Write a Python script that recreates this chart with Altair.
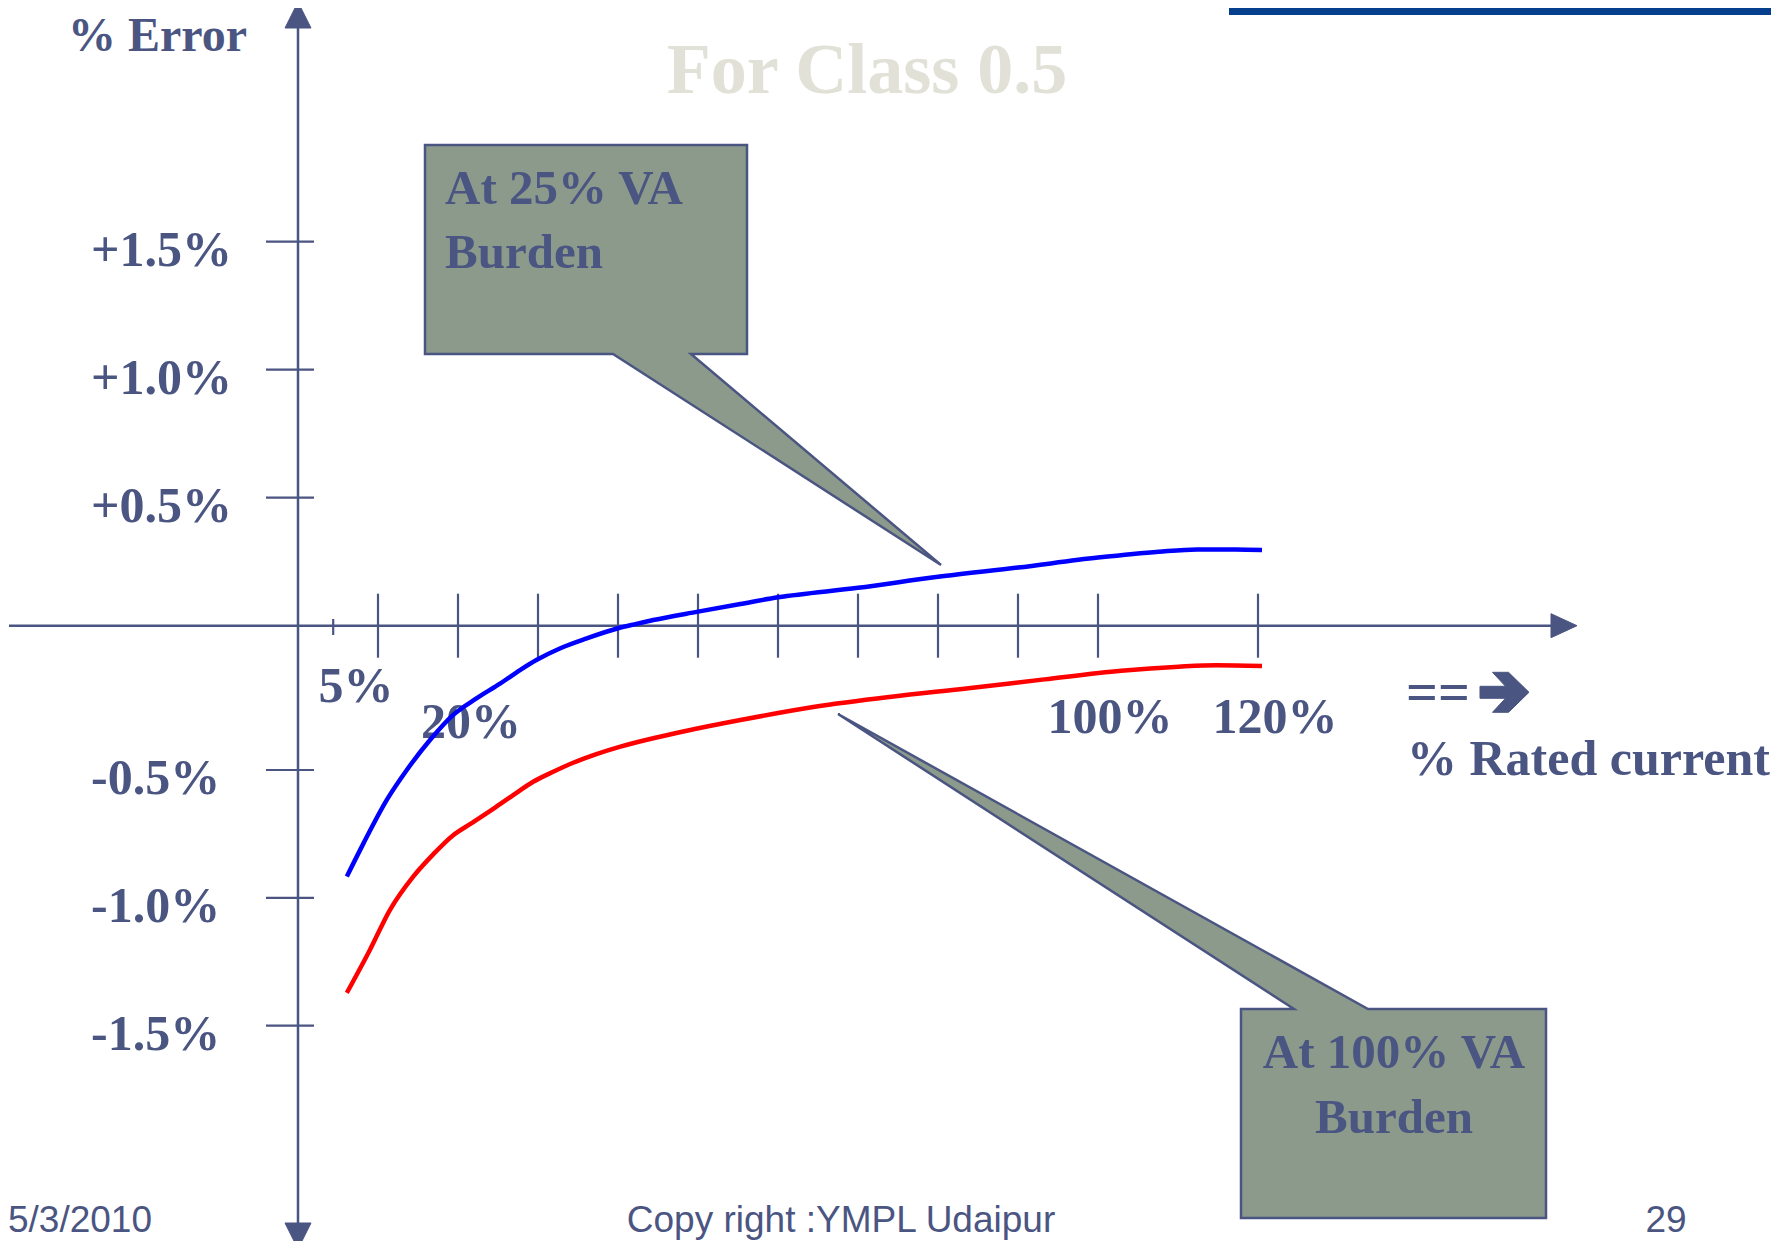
import altair as alt
import pandas as pd

INK = "#4a5582"
BOX_FILL = "#8c9a8c"
TITLE_GREY = "#e1e1d7"
BAR_BLUE = "#073f8f"
SERIF = "Liberation Serif"
SANS = "Liberation Sans"

# ---------------- data ----------------
x_ticks = [10, 20, 30, 40, 50, 60, 70, 80, 90, 100, 120]
minor_ticks = [4.4]
y_ticks = [1.5, 1.0, 0.5, -0.5, -1.0, -1.5]
y_tick_labels = ["+1.5%", "+1.0%", "+0.5%", "-0.5%", "-1.0%", "-1.5%"]
x_tick_labels = ["5%", "20%", "100%", "120%"]
x_label_at = [5, 20, 100, 120]

series_names = ["At 25% VA Burden", "At 100% VA Burden"]
series_colors = ["#0000ff", "#ff0000"]

pct_blue = [6.1, 8.2, 11.1, 13.6, 16.5, 19.4, 22.3, 25.3, 27.8, 29.8, 32.8, 36.1,
            40.0, 42.3, 44.4, 50.0, 55.3, 60, 70, 80, 90, 100, 107.6, 112.4, 117.2, 120.5]
err_blue = [-0.917, -0.786, -0.617, -0.5, -0.396, -0.309, -0.252, -0.2, -0.153, -0.119,
            -0.078, -0.044, -0.009, 0.007, 0.022, 0.055, 0.085, 0.111, 0.148, 0.191,
            0.227, 0.266, 0.289, 0.298, 0.298, 0.296]

pct_red = [6.1, 9.0, 11.5, 14.4, 16.9, 19.4, 21.5, 24.4, 26.9, 29.4, 31.9, 34.4, 37.3,
           40.3, 44.4, 48.6, 55.3, 64.6, 74.2, 83.8, 93.3, 102.9, 110.1, 114.8, 120.5]
err_red = [-1.372, -1.203, -1.047, -0.917, -0.83, -0.755, -0.712, -0.652, -0.598, -0.546,
           -0.507, -0.475, -0.445, -0.419, -0.39, -0.364, -0.327, -0.281, -0.246, -0.217,
           -0.186, -0.156, -0.142, -0.137, -0.14]

# ---------------- scales ----------------
W, H = 1763, 1233
xs = alt.Scale(domain=[0, 100], range=[290, 1090], nice=False, zero=False)
ys = alt.Scale(domain=[-1.5, -0.5, 0, 1.5], range=[1017.6, 762, 617.7, 233.7],
               nice=False, zero=False)


def X(field):
    return alt.X(field, type="quantitative", scale=xs, axis=None)


def Y(field):
    return alt.Y(field, type="quantitative", scale=ys, axis=None)


X0 = alt.XDatum(0, type="quantitative", scale=xs, axis=None)
Y0 = alt.YDatum(0, type="quantitative", scale=ys, axis=None)

one = pd.DataFrame({"k": [0]})
layers = []

# blue top bar
layers.append(alt.Chart(one).mark_rect(color=BAR_BLUE).encode(
    x=alt.value(1221), x2=alt.value(1763), y=alt.value(0), y2=alt.value(7)))

# title (light)
layers.append(alt.Chart(one).mark_text(
    text="For Class 0.5", font=SERIF, fontWeight="bold", fontSize=72,
    color=TITLE_GREY, align="center", baseline="alphabetic").encode(
    x=alt.value(859), y=alt.value(85)))

# axes lines
layers.append(alt.Chart(one).mark_rule(color=INK, strokeWidth=2.5).encode(
    x=X0, y=alt.value(20), y2=alt.value(1215)))
layers.append(alt.Chart(one).mark_rule(color=INK, strokeWidth=2.5).encode(
    y=Y0, x=alt.value(1), x2=alt.value(1545)))

# arrow heads
def head(path, **enc):
    return alt.Chart(one).mark_point(shape=path, size=4, filled=True, fill=INK,
                                     stroke=INK, strokeWidth=1, opacity=1).encode(**enc)

layers.append(head("M 0 -13 L 13 13 L -13 13 Z", x=X0, y=alt.value(7)))
layers.append(head("M 0 13 L 13 -13 L -13 -13 Z", x=X0, y=alt.value(1228)))
layers.append(head("M 13 0 L -13 -12 L -13 12 Z", x=alt.value(1556), y=Y0))

# ticks
layers.append(alt.Chart(pd.DataFrame({"pct": x_ticks})).mark_rule(
    color=INK, strokeWidth=2.2).encode(x=X("pct"), y=alt.value(585.7), y2=alt.value(649.7)))
layers.append(alt.Chart(pd.DataFrame({"pct": minor_ticks})).mark_rule(
    color=INK, strokeWidth=2.2).encode(x=X("pct"), y=alt.value(611), y2=alt.value(627)))
layers.append(alt.Chart(pd.DataFrame({"err": y_ticks})).mark_rule(
    color=INK, strokeWidth=2.2).encode(y=Y("err"), x=alt.value(258), x2=alt.value(306)))

# y tick labels
layers.append(alt.Chart(pd.DataFrame({"err": y_ticks, "label": y_tick_labels})).mark_text(
    align="left", baseline="alphabetic", dy=24, font=SERIF, fontWeight="bold",
    fontSize=50, color=INK).encode(y=Y("err"), x=alt.value(83), text="label:N"))

# x tick labels (hand-placed offsets like the original slide)
x_dx = [18, 13, 12, 17]
x_dy = [76.3, 112.3, 107.3, 107.3]
for lab, at, ddx, ddy in zip(x_tick_labels, x_label_at, x_dx, x_dy):
    layers.append(alt.Chart(pd.DataFrame({"pct": [at], "label": [lab]})).mark_text(
        align="center", baseline="alphabetic", dx=ddx, dy=ddy, font=SERIF,
        fontWeight="bold", fontSize=50, color=INK).encode(
        x=X("pct"), y=Y0, text="label:N"))

# axis titles
layers.append(alt.Chart(one).mark_text(
    text="% Error", font=SERIF, fontWeight="bold", fontSize=48, color=INK,
    align="left", baseline="alphabetic").encode(x=alt.value(60), y=alt.value(43)))
layers.append(alt.Chart(one).mark_text(
    text="==", font=SERIF, fontWeight="bold", fontSize=56, color=INK,
    align="left", baseline="alphabetic").encode(x=alt.value(1398), y=alt.value(703)))
layers.append(head("M -24.5 -6 L 1 -6 L -12 -20 L 4 -20 L 24.5 0 L 4 20 L -12 20 L 1 6 L -24.5 6 Z",
                   x=alt.value(1496.5), y=alt.value(684.3)))
layers.append(alt.Chart(one).mark_text(
    text="% Rated current", font=SERIF, fontWeight="bold", fontSize=50, color=INK,
    align="left", baseline="alphabetic").encode(x=alt.value(1399), y=alt.value(767)))

# curves
curves_df = pd.concat([
    pd.DataFrame({"pct": pct_blue, "err": err_blue, "burden": series_names[0]}),
    pd.DataFrame({"pct": pct_red, "err": err_red, "burden": series_names[1]}),
])
layers.append(alt.Chart(curves_df).mark_line(strokeWidth=4.5, interpolate="monotone").encode(
    x=X("pct"), y=Y("err"),
    color=alt.Color("burden:N", scale=alt.Scale(domain=series_names, range=series_colors),
                    legend=None)))

# callouts
def callout(path, cx, cy):
    return alt.Chart(one).mark_point(shape=path, size=4, filled=True, fill=BOX_FILL,
                                     stroke=INK, strokeWidth=2.5, opacity=1).encode(
        x=alt.value(cx), y=alt.value(cy))

layers.append(callout(
    "M -161 -104.5 L 161 -104.5 L 161 104.5 L 105 104.5 L 355 315.5 L 27 104.5 L -161 104.5 Z",
    578, 241.5))
layers.append(callout(
    "M -152.5 -104.5 L -99.5 -104.5 L -555.5 -399.5 L -25.5 -104.5 L 152.5 -104.5 "
    "L 152.5 104.5 L -152.5 104.5 Z",
    1385.5, 1105.5))

def box_text(txt, x, y, align):
    return alt.Chart(one).mark_text(
        text=txt, font=SERIF, fontWeight="bold", fontSize=49, color=INK,
        align=align, baseline="alphabetic").encode(x=alt.value(x), y=alt.value(y))

layers.append(box_text("At 25% VA", 437, 196, "left"))
layers.append(box_text("Burden", 437, 260, "left"))
layers.append(box_text("At 100% VA", 1386, 1060, "center"))
layers.append(box_text("Burden", 1386, 1125, "center"))

# footer
def foot(txt, x, align):
    return alt.Chart(one).mark_text(
        text=txt, font=SANS, fontSize=37, color=INK, align=align,
        baseline="alphabetic").encode(x=alt.value(x), y=alt.value(1224))

layers.append(foot("5/3/2010", 0, "left"))
layers.append(foot("Copy right :YMPL Udaipur", 833, "center"))
layers.append(foot("29", 1658, "center"))

chart = alt.layer(*layers).properties(
    width=W, height=H, padding=0,
    autosize=alt.AutoSizeParams(type="none"), background="white",
).configure_view(stroke=None)

chart.save("out.html", embed_options={"renderer": "svg", "actions": False})
